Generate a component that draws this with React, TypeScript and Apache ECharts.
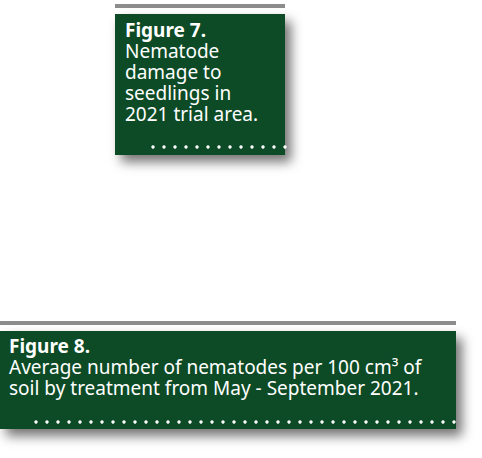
import { useEffect, useRef } from 'react';
import * as echarts from 'echarts';

// Caption texts, one entry per printed line.
const fig7Title = 'Figure 7.';
const fig7Lines = ['Nematode', 'damage to', 'seedlings in', '2021 trial area.'];
const fig8Title = 'Figure 8.';
const fig8Lines = [
  'Average number of nematodes per 100 cm\u00b3 of',
  'soil by treatment from May - September 2021.',
];

const GREEN = '#0f4b27';
const GREY = '#8c8c8c';
const FONT = '"Noto Sans", sans-serif';

function captionBox(
  x: number,
  y: number,
  w: number,
  h: number,
  title: string,
  lines: string[],
  textX: number,
  firstMid: number,
  lineGap: number,
  dotsFrom: number,
  dotsY: number,
  fontSize: number,
) {
  const els: any[] = [];
  // grey rule above the box
  els.push({
    type: 'rect',
    shape: { x, y: y - 10, width: w, height: 4 },
    style: { fill: GREY },
  });
  els.push({
    type: 'rect',
    shape: { x, y, width: w, height: h },
    style: {
      fill: GREEN,
      shadowBlur: 12,
      shadowOffsetX: 6,
      shadowOffsetY: 7,
      shadowColor: 'rgba(0,0,0,0.55)',
    },
  });
  // whole caption as one rich text block, bold title on the first line
  const text = [`{b|${title}}`, ...lines.map((l) => `{n|${l}}`)].join('\n');
  els.push({
    type: 'text',
    x: textX,
    y: firstMid - lineGap / 2,
    style: {
      text,
      verticalAlign: 'top',
      lineHeight: lineGap,
      rich: {
        b: {
          fill: '#fff',
          font: `bold ${fontSize}px ${FONT}`,
          lineHeight: lineGap,
        },
        n: {
          fill: '#fff',
          font: `${fontSize}px ${FONT}`,
          lineHeight: lineGap,
        },
      },
    },
  });
  // dotted rule along the bottom
  for (let dx = dotsFrom; dx <= x + w; dx += 11) {
    els.push({
      type: 'circle',
      shape: { cx: dx, cy: dotsY, r: 1.7 },
      style: { fill: '#fff' },
    });
  }
  return els;
}

export default function App() {
  const ref = useRef<HTMLDivElement | null>(null);

  useEffect(() => {
    if (!ref.current) return;
    const chart = echarts.init(ref.current, null, { renderer: 'svg' });
    chart.setOption({
      animation: false,
      backgroundColor: '#fff',
      graphic: [
        ...captionBox(115, 14, 170, 141, fig7Title, fig7Lines, 125, 29.7, 21.1, 153, 147, 19),
        ...captionBox(0, 331, 456, 98, fig8Title, fig8Lines, 9, 346.3, 20.6, 36, 422, 19),
      ],
    });
    return () => chart.dispose();
  }, []);

  return (
    <div
      ref={ref}
      style={{ position: 'fixed', left: 0, top: 0, width: 482, height: 458 }}
    />
  );
}
